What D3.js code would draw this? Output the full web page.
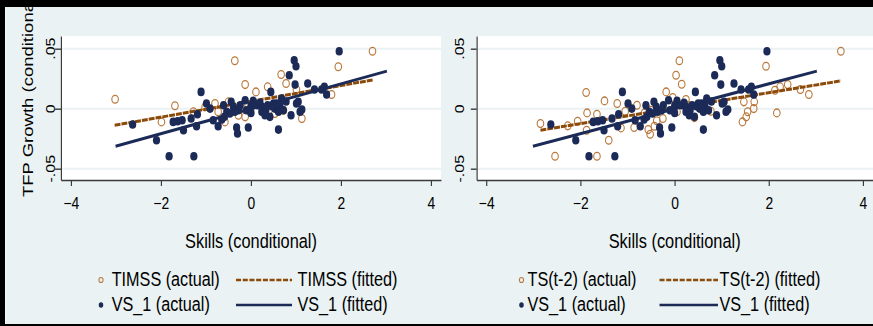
<!DOCTYPE html>
<html>
<head>
<meta charset="utf-8">
<script src="https://cdn.jsdelivr.net/npm/d3@7"></script>
<style>
  html, body { margin: 0; padding: 0; background: #eaf2f3; overflow: hidden; }
  text { font-family: "Liberation Sans", Arial, sans-serif; fill: #000; }
</style>
</head>
<body>
<div id="chart"></div>
<script>
// ---- data ----
// VS_1 (same in both panels)
const vsX = [-2.63, -2.10, -1.82, -1.27, -1.11, -1.73, -1.63, -1.53, -1.50, -1.33, -1.21, -1.19, -0.99, -0.91, -0.84, -0.73,
  -0.61, -0.59, -0.54, -0.44, -0.39, -0.36, -0.32, -0.30, -0.24, -0.13, -0.10, -0.06, 0.00, 0.05, 0.15, 0.24,
  0.31, 0.37, 0.42, 0.44, 0.50, 0.53, 0.61, 0.61, 0.64, 0.68, 0.72, 0.85, 0.89, 0.96, 1.00, 0.98,
  1.01, 1.05, 1.09, 1.13, 1.26, 1.41, 1.57, 1.63, 1.68, 1.96, 0.00, -0.28, -0.65, 0.24, 0.57,
  0.20, 0.46, 0.78, -0.47, 0.33];
const vsY = [-0.0132, -0.0263, -0.0396, -0.0396, 0.0140, -0.0110, -0.0104, -0.0096, -0.0179, -0.0082, -0.0146, -0.0046, 0.0043, 0.0001, -0.0096, -0.0146,
  0.0029, -0.0068, -0.0026, 0.0057, 0.0015, -0.0026, -0.0157, -0.0207, 0.0029, 0.0071, -0.0013, -0.0157, -0.0035, 0.0065, 0.0029, 0.0015,
  -0.0054, 0.0029, -0.0068, 0.0140, 0.0043, 0.0001, -0.0174, -0.0026, 0.0029, 0.0085, -0.0013, 0.0279, -0.0054, 0.0404, 0.0354, 0.0201,
  0.0043, 0.0057, -0.0026, -0.0007, 0.0210, 0.0160, 0.0160, 0.0182, 0.0118, 0.0479, 0.0026, -0.0013, -0.0090, -0.0026, 0.0043,
  0.0050, 0.0020, 0.0060, -0.0040, -0.0010];

// TIMSS (left panel)
const timssX = [-3.02, -1.69, -1.99, -0.36, -0.13, -0.80, -0.73, -0.58, 0.11, 0.37, 0.67, 0.78, -0.13,
  -0.21, -0.50, 1.01, 1.13, 1.94, 2.70, 1.79, 0.72, 0.53, -0.28, -1.02, -1.28, 0.01];
const timssY = [0.0079, 0.0024, -0.0110, 0.0399, 0.0201, 0.0043, -0.0026, -0.0110, 0.0140, 0.0182, 0.0285, 0.0210, -0.0068,
  0.0029, 0.0057, 0.0160, -0.0082, 0.0349, 0.0479, 0.0118, -0.0013, -0.0040, -0.0054, 0.0015, -0.0026, 0.0015];

// TS(t-2) (right panel)
const tsX = [-2.85, -2.54, -2.27, -2.06, -1.88, -1.86, -1.87, -1.65, -1.65, -1.49, -1.40, -1.22, -1.14, -1.05, -0.86, -0.80,
  -0.64, -0.56, -0.52, -0.43, -0.38, -0.18, -0.04, 0.03, 0.10, 0.15, 0.05, 0.24, 0.28, 0.42, 0.77, 1.44,
  1.52, 1.55, 1.68, 1.69, 1.47, 1.94, 2.17, 2.13, 2.24, 2.40, 2.67, 2.85, 3.53, -0.25, -0.50];
const tsY = [-0.0124, -0.0396, -0.0143, -0.0104, 0.0135, -0.0035, -0.0179, -0.0396, -0.0046, 0.0065, -0.0263, 0.0043, -0.0160, -0.0021, -0.0157, 0.0029,
  -0.0035, -0.0174, -0.0213, -0.0146, -0.0101, 0.0140, 0.0093, 0.0279, 0.0399, 0.0204, -0.0026, 0.0076, 0.0029, -0.0074, -0.0021, -0.0110,
  -0.0068, -0.0026, 0.0001, 0.0057, 0.0057, 0.0354, -0.0035, 0.0154, 0.0182, 0.0201, 0.0160, 0.0118, 0.0479, -0.0082, -0.0013];

// fitted lines (end points)
const vsFitX = [-3.01, 3.02];
const vsFitY = [-0.0313, 0.0313];
const timssFitX = [-3.03, 2.71];
const timssFitY = [-0.0138, 0.0240];
const tsFitX = [-2.85, 3.53];
const tsFitY = [-0.0179, 0.0232];

const xTicks = [-4, -2, 0, 2, 4];
const yTicks = [-0.05, 0, 0.05];
const yTickLabels = ['-.05', '0', '.05'];

const leftLegend = ['TIMSS (actual)', 'TIMSS (fitted)', 'VS_1 (actual)', 'VS_1 (fitted)'];
const rightLegend = ['TS(t-2) (actual)', 'TS(t-2) (fitted)', 'VS_1 (actual)', 'VS_1 (fitted)'];

// ---- layout ----
const W = 873, H = 326;
const SX = 0.84;            // the whole picture is squeezed horizontally
const dx = p => p / SX;     // screen px -> drawing units

const NAVY = '#1b2a56', HOLLOW = '#b9773a', BROWN = '#8b4a0a', BG = '#eaf2f3';
const plotTop = 36, plotBottom = 180;

const svg = d3.select('#chart').append('svg').attr('width', W).attr('height', H);
svg.append('rect').attr('width', W).attr('height', H).attr('fill', BG);
const root = svg.append('g').attr('transform', `scale(${SX},1)`);

const y = d3.scaleLinear().domain([-0.05, 0.05]).range([168.7, 48.7]);
y.domain([y.invert(plotBottom), y.invert(plotTop)]).range([plotBottom, plotTop]);

const panels = [
  { left: 61, right: 441, x0: 71, x1: 431, yLab: 54.5, xs: timssX, ys: timssY, fx: timssFitX, fy: timssFitY,
    legend: leftLegend, mk: 101, txt: 111.7, ln0: 236, ln1: 292, txt2: 297.5, yTitle: true },
  { left: 476.7, right: 880, x0: 486.3, x1: 863, yLab: 463.5, xs: tsX, ys: tsY, fx: tsFitX, fy: tsFitY,
    legend: rightLegend, mk: 521.5, txt: 527.5, ln0: 659.5, ln1: 718, txt2: 719.5, yTitle: false }
];

function drawPanel(p) {
  const x = d3.scaleLinear().domain([-4, 4]).range([dx(p.x0), dx(p.x1)]);
  x.domain([x.invert(dx(p.left)), x.invert(dx(p.right))]).range([dx(p.left), dx(p.right)]);

  const g = root.append('g');

  g.append('rect')
    .attr('x', dx(p.left)).attr('y', plotTop)
    .attr('width', dx(p.right) - dx(p.left)).attr('height', plotBottom - plotTop)
    .attr('fill', '#fff');

  g.selectAll('.grid').data(yTicks).join('line')
    .attr('class', 'grid')
    .attr('x1', dx(p.left)).attr('x2', dx(p.right))
    .attr('y1', d => y(d)).attr('y2', d => y(d))
    .attr('stroke', BG).attr('stroke-width', 2);

  const line = d3.line().x(d => x(d[0])).y(d => y(d[1]));

  // actual (hollow)
  g.append('g').selectAll('circle').data(d3.zip(p.xs, p.ys)).join('circle')
    .attr('cx', d => x(d[0])).attr('cy', d => y(d[1])).attr('r', 3.9)
    .attr('fill', 'none').attr('stroke', HOLLOW).attr('stroke-width', 1.3);

  // fitted (dashed brown)
  g.append('path').datum(d3.zip(p.fx, p.fy))
    .attr('d', line).attr('fill', 'none')
    .attr('stroke', BROWN).attr('stroke-width', 3).attr('stroke-dasharray', '7,1.2');

  // VS_1 actual
  g.append('g').selectAll('circle').data(d3.zip(vsX, vsY)).join('circle')
    .attr('cx', d => x(d[0])).attr('cy', d => y(d[1])).attr('r', 4.3)
    .attr('fill', NAVY);

  // VS_1 fitted
  g.append('path').datum(d3.zip(vsFitX, vsFitY))
    .attr('d', line).attr('fill', 'none')
    .attr('stroke', NAVY).attr('stroke-width', 3);

  // axes
  const gy = g.append('g').attr('transform', `translate(${dx(p.left)},0)`)
    .call(d3.axisLeft(y).tickValues(yTicks).tickSize(7).tickSizeOuter(0).tickFormat(''));
  const gx = g.append('g').attr('transform', `translate(0,${plotBottom})`)
    .call(d3.axisBottom(x).tickValues(xTicks).tickSize(6).tickSizeOuter(0).tickFormat(d3.format('d')));
  [gy, gx].forEach(a => {
    a.select('.domain').attr('stroke', '#3a3a3a').attr('stroke-width', 1.4);
    a.selectAll('.tick line').attr('stroke', '#3a3a3a').attr('stroke-width', 1.4);
  });
  gx.selectAll('text').attr('y', 29.5).attr('dy', null)
    .style('font-size', '16.5px').attr('fill', '#000')
    .style('font-family', '"Liberation Sans", Arial, sans-serif');

  // rotated y tick labels
  g.selectAll('.ylab').data(yTicks).join('text')
    .attr('class', 'ylab')
    .attr('transform', d => `translate(${dx(p.yLab)},${y(d)}) rotate(-90)`)
    .attr('text-anchor', 'middle')
    .style('font-size', '16px')
    .text((d, i) => yTickLabels[i]);

  // x title
  g.append('text')
    .attr('x', x(0)).attr('y', 248)
    .attr('text-anchor', 'middle')
    .style('font-size', '19.5px')
    .text('Skills (conditional)');

  if (p.yTitle) {
    g.append('text')
      .attr('transform', `translate(${dx(33)},197) rotate(-90)`)
      .style('font-size', '18.5px')
      .text('TFP Growth (conditional)');
  }

  // legend
  const lg = g.append('g').style('font-size', '19.3px');
  const rows = [280, 305];
  lg.append('circle').attr('cx', dx(p.mk)).attr('cy', rows[0]).attr('r', 2.5)
    .attr('fill', 'none').attr('stroke', HOLLOW).attr('stroke-width', 1.2);
  lg.append('circle').attr('cx', dx(p.mk)).attr('cy', rows[1]).attr('r', 2.7).attr('fill', NAVY);
  lg.append('line').attr('x1', dx(p.ln0)).attr('x2', dx(p.ln1)).attr('y1', rows[0]).attr('y2', rows[0])
    .attr('stroke', BROWN).attr('stroke-width', 2.6).attr('stroke-dasharray', '6,2');
  lg.append('line').attr('x1', dx(p.ln0)).attr('x2', dx(p.ln1)).attr('y1', rows[1]).attr('y2', rows[1])
    .attr('stroke', NAVY).attr('stroke-width', 2.6);
  lg.append('text').attr('x', dx(p.txt)).attr('y', rows[0] + 6).text(p.legend[0]);
  lg.append('text').attr('x', dx(p.txt2)).attr('y', rows[0] + 6).text(p.legend[1]);
  lg.append('text').attr('x', dx(p.txt)).attr('y', rows[1] + 6).text(p.legend[2]);
  lg.append('text').attr('x', dx(p.txt2)).attr('y', rows[1] + 6).text(p.legend[3]);
}

panels.forEach(drawPanel);

// black frame of the screenshot
svg.append('rect').attr('x', 0).attr('y', 0).attr('width', W).attr('height', 7).attr('fill', '#000');
svg.append('rect').attr('x', 0).attr('y', 0).attr('width', 5).attr('height', H).attr('fill', '#000');
svg.append('rect').attr('x', 0).attr('y', H - 2).attr('width', W).attr('height', 2).attr('fill', '#000');
svg.append('rect').attr('x', 5).attr('y', 7).attr('width', 1).attr('height', H - 9).attr('fill', '#f6f9fa');
</script>
</body>
</html>
